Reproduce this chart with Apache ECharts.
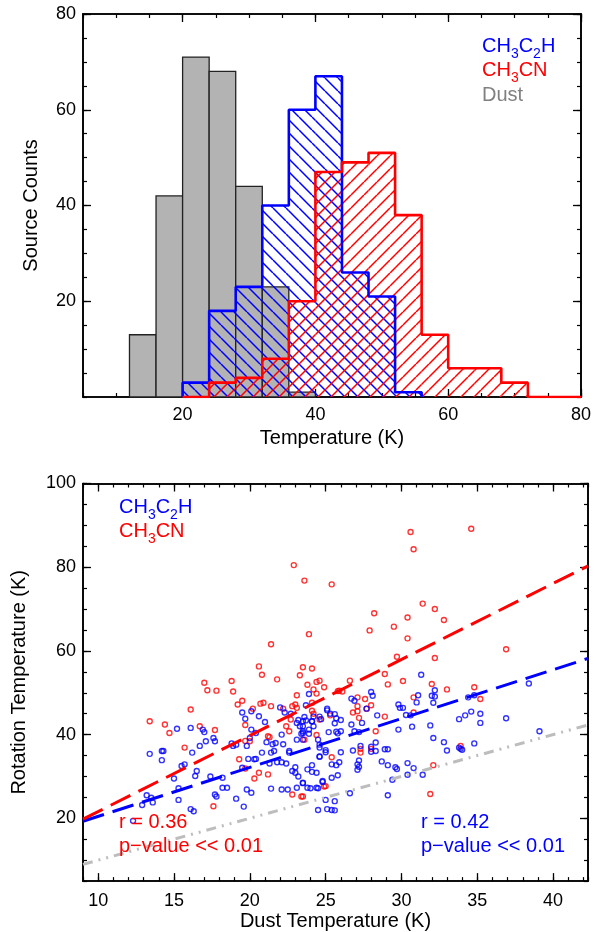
<!DOCTYPE html>
<html><head><meta charset="utf-8">
<script src="https://cdn.jsdelivr.net/npm/echarts@6/dist/echarts.min.js"></script>
<style>html,body{margin:0;padding:0;background:#fff}#c{width:596px;height:932px}</style>
</head><body><div id="c"></div>
<script>
// ---------------- data ----------------
const binStarts = [12,16,20,24,28,32,36,40,44,48,52,56,60,64,68,72,76];
const binWidth = 4;
const dustCounts = [13,42,71,68,44,23,1,0,0,0,0,0,0,0,0,0,0];
const c2hCounts  = [0,0,3,18,23,40,60,67,26,21,1,0,0,0,0,0,0];
const cnCounts   = [0,0,0,3,4,8,20,47,49,51,38,13,6,6,3,0,0];
const c2hRange = [2,10];   // bin index span of the CH3C2H outline
const cnRange  = [2,16];   // bin index span of the CH3CN outline

const histXTicks = [20,40,60,80];
const histYTicks = [20,40,60,80];
const scatXTicks = [10,15,20,25,30,35,40];
const scatYTicks = [20,40,60,80,100];

const c2hPoints = [
[31.3,54.3],[38.4,52.2],[32.2,50.6],[31.1,49.4],[32.0,49.3],[32.2,49.1],[28.1,49.3],[26.7,48.6],[34.8,49.4],
[39.1,40.8],[36.9,43.9],[35.2,42.8],[34.8,37.9],[33.8,43.7],[34.2,44.6],[34.6,45.5],[34.4,48.9],[35.2,45.0],
[33.9,36.6],[33.8,36.9],[34.0,36.4],[32.8,38.2],[33.0,36.2],[32.1,39.2],[31.9,42.2],[32.1,47.6],[31.0,47.7],
[30.6,44.6],[30.7,41.9],[29.9,46.4],[29.8,47.2],[30.1,46.4],[30.3,44.7],[29.8,41.2],[30.8,32.0],[30.4,33.2],
[30.4,30.4],[31.4,30.4],[29.6,32.2],[29.7,31.8],[29.1,32.7],[29.4,29.2],[29.1,25.5],[28.9,36.5],[29.1,36.5],
[28.4,44.6],[28.7,33.6],[28.3,38.1],[28.0,37.1],[28.0,35.9],[28.3,36.1],[27.7,46.2],[27.4,42.8],[27.3,37.3],
[27.2,33.8],[27.1,32.9],[27.2,32.3],[27.1,31.6],[26.9,48.1],[26.7,42.4],[26.9,40.8],[27.2,40.6],[26.8,36.2],
[28.0,50.2],[26.6,26.0],[26.0,43.5],[25.6,42.7],[25.7,40.7],[26.0,40.8],[25.8,40.3],[26.0,35.8],[25.9,33.4],
[25.8,30.3],[25.4,29.7],[25.6,24.1],[25.4,22.0],[25.0,24.4],[24.5,22.0],[24.8,28.7],[24.5,27.2],[24.0,27.2],
[23.5,28.4],[24.1,31.1],[24.1,32.7],[24.6,34.7],[25.0,35.8],[25.1,45.8],[25.6,44.9],[25.7,43.9],[24.6,37.6],
[24.6,36.9],[24.2,42.0],[24.1,43.2],[24.2,44.3],[24.6,44.3],[23.9,40.2],[23.9,41.2],[23.6,44.2],[23.5,43.2],
[23.5,42.0],[23.5,40.8],[23.4,40.2],[23.7,47.0],[23.9,49.7],
[13.4,35.4],[14.2,36.1],[14.3,36.1],[14.2,33.9],[15.2,41.4],[16.1,41.6],[16.9,41.2],[17.0,40.6],[17.1,38.4],
[17.6,39.2],[17.7,38.4],[16.7,37.3],[16.2,35.7],[15.5,32.5],[15.7,32.9],[16.5,31.3],[16.4,30.1],[15.0,29.5],
[15.3,27.2],[15.3,24.4],[16.1,22.2],[16.3,21.7],[13.2,25.5],[13.5,24.9],[12.9,23.2],[13.6,23.8],[12.3,19.4],
[17.7,25.7],[17.8,25.2],[17.4,30.0],[18.2,27.3],[18.5,27.3],[18.2,29.7],[18.8,37.9],[18.9,37.3],[19.1,37.6],
[19.6,22.8],[19.1,24.7],[19.8,26.9],[20.1,26.1],[19.5,32.1],[19.9,34.2],[20.3,34.1],[20.4,34.2],[20.8,35.7],
[19.8,37.3],[20.0,39.2],[19.5,45.3],[20.1,45.6],[19.7,43.8],[20.6,44.4],[21.0,43.0],[20.1,41.2],[20.4,40.4],
[21.1,38.2],[21.5,37.7],[21.7,38.0],[21.4,35.7],[21.6,36.1],[21.3,33.1],[21.8,33.4],[22.1,33.4],[22.4,33.1],
[22.1,40.0],[22.2,37.7],[22.6,36.1],[22.6,35.7],[22.0,46.5],[22.3,45.3],[22.7,45.0],[23.1,42.8],[23.2,43.5],
[23.3,42.0],[23.1,38.8],[23.0,32.2],[22.8,31.3],[23.0,30.9],[23.2,30.0],[22.1,26.9],[22.5,26.9],[21.4,27.1],
[23.1,27.3],[23.5,28.5],[23.8,27.3],[24.4,27.3],[24.8,28.9],[25.1,22.2],[25.6,21.9],[23.8,31.7],[24.4,30.9],
[23.5,40.4],[23.5,38.8],[23.7,43.4],[24.1,43.2],[24.7,43.7],[24.5,38.8],[25.1,46.2],[25.3,45.0],[25.2,40.6],
[24.6,34.8],[25.0,36.3],[25.4,32.9],[25.7,32.7]
];
const cnPoints = [
[22.9,80.5],[23.6,76.8],[25.4,75.9],[23.9,64.0],[21.4,61.6],[20.6,56.3],[20.8,54.3],[21.8,53.2],[23.5,56.1],
[24.1,55.8],[23.3,54.2],[23.8,51.9],[24.4,52.6],[24.6,52.9],[24.9,51.3],[24.4,49.8],[23.1,49.4],[17.0,52.4],
[17.2,50.6],[18.8,52.8],[18.9,50.3],[25.8,50.4],
[30.6,88.4],[30.8,84.3],[34.6,89.2],[31.4,71.3],[32.2,70.0],[32.8,67.4],[28.2,69.0],[30.4,68.0],[29.5,65.8],
[27.9,64.9],[30.4,63.0],[29.7,58.6],[32.2,58.3],[36.9,60.4],[28.9,54.5],[26.6,52.9],[30.1,52.8],[29.1,52.0],
[32.0,52.1],[33.0,50.8],[34.8,51.3],[25.9,50.5],[26.1,50.3],[27.1,48.9],[27.6,48.5],[30.8,48.9],[35.2,48.5],
[31.9,25.8],[32.1,32.7],[33.9,37.3],[30.8,45.3],[28.9,44.3],[28.3,40.8],[28.0,47.0],[27.7,46.2],[27.1,46.8],
[27.1,45.6],[27.2,44.0],[26.8,45.3],[27.3,36.6],[27.3,35.7],[28.0,36.6],[25.4,34.6],[24.9,27.6],[25.3,44.6],
[24.1,45.7],[24.6,43.6],[23.6,38.8],[23.5,25.2],[24.2,50.8],
[13.4,43.2],[14.4,42.4],[14.7,40.4],[16.1,46.0],[17.8,50.5],[15.7,36.9],[16.7,42.0],[17.7,41.1],[17.6,22.9],
[19.2,47.2],[19.5,48.1],[20.2,46.2],[20.7,47.4],[20.9,47.6],[21.4,46.8],[22.2,46.2],[22.8,46.8],[23.0,47.2],
[23.1,46.4],[22.4,42.0],[22.6,40.8],[21.2,39.6],[21.3,39.4],[19.7,42.3],[19.7,38.5],[20.0,38.4],[19.3,34.1],
[19.7,31.9],[20.6,30.9],[20.3,29.5],[21.2,30.5],[22.8,25.7],[23.4,25.2],[24.1,47.6],[24.2,45.0],[24.4,39.9],
[25.0,27.7],[22.7,43.6]
];
const fitX = [9, 42.3];
const cnFitY = [19.8, 80.3];
const c2hFitY = [19.3, 58.2];
const unityY = [9, 42.3];

// ---------------- helpers ----------------
const FONT = '"Liberation Sans", Arial, Helvetica, sans-serif';
function hatch(color, dir) {
  const s = 13, c = document.createElement('canvas');
  c.width = s; c.height = s;
  const g = c.getContext('2d');
  g.strokeStyle = color; g.lineWidth = 1.5;
  g.beginPath();
  for (const k of [-s, 0, s]) {
    if (dir === 'back') { g.moveTo(k, 0); g.lineTo(k + s, s); }
    else { g.moveTo(k, s); g.lineTo(k + s, 0); }
  }
  g.stroke();
  return c;
}
const bluePat = { image: hatch('#0000ff', 'back'), repeat: 'repeat' };
const redPat = { image: hatch('#ff0000', 'fwd'), repeat: 'repeat' };

function rectData(counts) {
  return binStarts.map((s, i) => [s, s + binWidth, counts[i]]).filter(d => d[2] > 0);
}
function stepData(counts, r) {
  const pts = [[binStarts[r[0]], 0]];
  for (let i = r[0]; i <= r[1]; i++) pts.push([binStarts[i], counts[i]]);
  pts.push([binStarts[r[1]] + binWidth, 0]);
  return pts;
}
function rectSeries(counts, fill, stroke, lw, z) {
  return {
    type: 'custom', xAxisIndex: 0, yAxisIndex: 0, z: z,
    data: rectData(counts), encode: { x: [0, 1], y: 2 },
    renderItem: function (params, api) {
      const p0 = api.coord([api.value(0), 0]);
      const p1 = api.coord([api.value(1), api.value(2)]);
      return { type: 'rect', shape: { x: p0[0], y: p1[1], width: p1[0] - p0[0], height: p0[1] - p1[1] },
        style: { fill: fill, stroke: stroke, lineWidth: lw } };
    }
  };
}
const axLine = { show: true, onZero: false, lineStyle: { color: '#000', width: 1.6 } };
function axesFor(kind, grid, min, max, major, minorInt, pos, label, extra) {
  const common = { type: 'value', gridIndex: grid, min: min, max: max, position: pos,
    axisLine: axLine, splitLine: { show: false } };
  const majorAx = Object.assign({}, common, {
    axisTick: { show: true, inside: true, length: 8, customValues: major, lineStyle: { color: '#000', width: 1.3 } },
    axisLabel: label ? Object.assign({ show: true, customValues: major, color: '#000', fontSize: 18, fontFamily: FONT }, label) : { show: false }
  }, extra || {});
  const minorAx = Object.assign({}, common, {
    interval: minorInt,
    axisTick: { show: true, inside: true, length: 4, lineStyle: { color: '#000', width: 1.2 } },
    axisLabel: { show: false }
  });
  return [majorAx, minorAx];
}
const nameStyle = { color: '#000', fontSize: 20, fontFamily: FONT };

const xAxes = [].concat(
  axesFor('x', 0, 5, 80, histXTicks, 5, 'bottom', { margin: 9 },
    { name: 'Temperature (K)', nameLocation: 'middle', nameGap: 31, nameTextStyle: nameStyle }),
  axesFor('x', 0, 5, 80, histXTicks, 5, 'top', null),
  axesFor('x', 1, 9, 42.3, scatXTicks, 1, 'bottom', { margin: 11 },
    { name: 'Dust Temperature (K)', nameLocation: 'middle', nameGap: 29, nameTextStyle: nameStyle }),
  axesFor('x', 1, 9, 42.3, scatXTicks, 1, 'top', null)
);
const yAxes = [].concat(
  axesFor('y', 0, 0, 80, histYTicks, 5, 'left', { margin: 7 },
    { name: 'Source Counts', nameLocation: 'middle', nameGap: 42, nameTextStyle: nameStyle }),
  axesFor('y', 0, 0, 80, histYTicks, 5, 'right', null),
  axesFor('y', 1, 5, 100, scatYTicks, 5, 'left', { margin: 7 },
    { name: 'Rotation Temperature (K)', nameLocation: 'middle', nameGap: 54, nameTextStyle: nameStyle }),
  axesFor('y', 1, 5, 100, scatYTicks, 5, 'right', null)
);

const richSub = {
  b: { fontSize: 20, fontFamily: FONT, lineHeight: 20, verticalAlign: 'bottom', padding: [0, 0, 4, 0] },
  s: { fontSize: 14, fontFamily: FONT, lineHeight: 14, verticalAlign: 'bottom' }
};
function richText(x, y, str, color) {
  const rich = {};
  for (const k in richSub) rich[k] = Object.assign({ fill: color }, richSub[k]);
  return { type: 'text', left: x, top: y, z: 100,
    style: { text: str, rich: rich, fill: color, font: '20px ' + FONT } };
}
function plainText(x, y, str, color) {
  return { type: 'text', left: x, top: y, z: 100,
    style: { text: str, fill: color, fontSize: 20, fontFamily: FONT } };
}

const scatterStyle = (c) => ({ color: 'rgba(0,0,0,0)', borderColor: c, borderWidth: 1.4 });

const option = {
  animation: false,
  backgroundColor: '#fff',
  grid: [
    { left: 83, top: 14, width: 498, height: 383 },
    { left: 83, top: 483.5, width: 505, height: 398.5 }
  ],
  xAxis: xAxes,
  yAxis: yAxes,
  series: [
    rectSeries(dustCounts, '#b3b3b3', '#222', 1.3, 2),
    rectSeries(c2hCounts, bluePat, null, 0, 3),
    rectSeries(cnCounts, redPat, null, 0, 4),
    { type: 'line', xAxisIndex: 0, yAxisIndex: 0, z: 5, step: 'end', showSymbol: false, silent: true,
      data: stepData(c2hCounts, c2hRange), lineStyle: { color: '#0000ff', width: 2.6 } },
    { type: 'line', xAxisIndex: 0, yAxisIndex: 0, z: 6, step: 'end', showSymbol: false, silent: true,
      data: stepData(cnCounts, cnRange), lineStyle: { color: '#ff0000', width: 2.6 } },
    { type: 'scatter', xAxisIndex: 4, yAxisIndex: 4, z: 3, symbol: 'circle', symbolSize: 5,
      data: cnPoints, itemStyle: scatterStyle('#ff0000') },
    { type: 'scatter', xAxisIndex: 4, yAxisIndex: 4, z: 4, symbol: 'circle', symbolSize: 5,
      data: c2hPoints, itemStyle: scatterStyle('#0000ff') },
    { type: 'line', xAxisIndex: 4, yAxisIndex: 4, z: 6, showSymbol: false, silent: true,
      data: fitX.map((x, i) => [x, unityY[i]]),
      lineStyle: { color: '#bdbdbd', width: 3, type: [10, 6, 2, 6, 2, 6] } },
    { type: 'line', xAxisIndex: 4, yAxisIndex: 4, z: 7, showSymbol: false, silent: true,
      data: fitX.map((x, i) => [x, c2hFitY[i]]),
      lineStyle: { color: '#0000ff', width: 3, type: [22, 9] } },
    { type: 'line', xAxisIndex: 4, yAxisIndex: 4, z: 8, showSymbol: false, silent: true,
      data: fitX.map((x, i) => [x, cnFitY[i]]),
      lineStyle: { color: '#ff0000', width: 3, type: [22, 9] } }
  ],
  graphic: [
    richText(482, 36.7, '{b|CH}{s|3}{b|C}{s|2}{b|H}', '#0000ff'),
    richText(482, 60.8, '{b|CH}{s|3}{b|CN}', '#ff0000'),
    plainText(482, 85, 'Dust', '#808080'),
    richText(119, 497.9, '{b|CH}{s|3}{b|C}{s|2}{b|H}', '#0000ff'),
    richText(119, 521.7, '{b|CH}{s|3}{b|CN}', '#ff0000'),
    plainText(119, 812.5, 'r = 0.36', '#ff0000'),
    plainText(119, 836.5, 'p\u2212value << 0.01', '#ff0000'),
    plainText(421, 812.5, 'r = 0.42', '#0000ff'),
    plainText(421, 836.5, 'p\u2212value << 0.01', '#0000ff')
  ]
};
const chart = echarts.init(document.getElementById('c'), null, { renderer: 'canvas' });
chart.setOption(option);
</script>
</body></html>
